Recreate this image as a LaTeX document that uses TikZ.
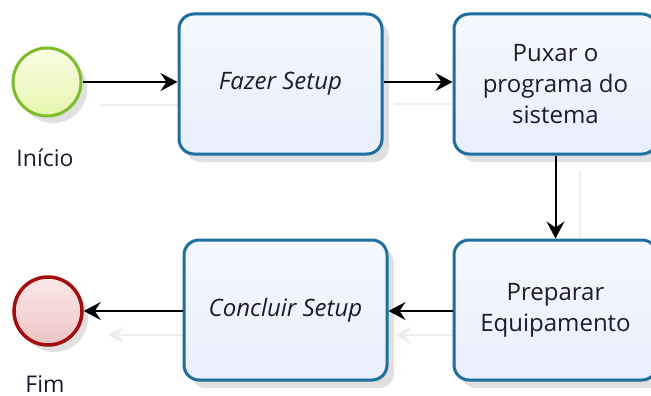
\documentclass[tikz,border=0pt]{standalone}
\usepackage{fontspec}
\setmainfont{Open Sans}
\usetikzlibrary{arrows.meta,shadows}
\definecolor{taskborder}{HTML}{1C6F9F}
\definecolor{taskfillA}{HTML}{F6F8FE}
\definecolor{taskfillB}{HTML}{E9EEFB}
\definecolor{startborder}{HTML}{7CBD2B}
\definecolor{startA}{HTML}{FAFDE6}
\definecolor{startB}{HTML}{E6F5AE}
\definecolor{endborder}{HTML}{A30D0D}
\definecolor{endA}{HTML}{FBE8E8}
\definecolor{endB}{HTML}{EEC4C4}
\definecolor{txt}{HTML}{1E1A2E}
\definecolor{ghost}{HTML}{EDEDED}
\tikzset{
  task/.style={draw=taskborder, line width=3pt, rounded corners=15pt,
    minimum width=203pt, minimum height=140pt, top color=taskfillA, bottom color=taskfillB,
    align=center, text=txt, font=\fontsize{24}{31}\selectfont,
    drop shadow={shadow xshift=7pt, shadow yshift=-8pt, opacity=0.12, fill=black}},
  startev/.style={circle, draw=startborder, line width=3pt, minimum size=68pt,
    top color=startA, bottom color=startB,
    drop shadow={shadow xshift=6pt, shadow yshift=-7pt, opacity=0.12, fill=black}},
  endev/.style={circle, draw=endborder, line width=3.5pt, minimum size=68pt,
    top color=endA, bottom color=endB,
    drop shadow={shadow xshift=6pt, shadow yshift=-7pt, opacity=0.12, fill=black}},
  lbl/.style={text=txt, font=\fontsize{23}{27}\selectfont},
  flow/.style={draw=black, line width=2pt, -{Stealth[length=17pt, width=18pt, inset=6pt]}},
  ghostflow/.style={draw=ghost, line width=2pt, -{Stealth[length=16pt, width=17pt, inset=6pt]}},
}
\begin{document}
\begin{tikzpicture}[x=1pt, y=-1pt]
\useasboundingbox (0,0) rectangle (651,396);
\fill[white] (0,0) rectangle (651,396);
% ghost (shadow) connectors
\coordinate (g1a) at (100,105); \coordinate (g1b) at (178,105);
\coordinate (g2a) at (395,104); \coordinate (g2b) at (453,104);
\coordinate (g3a) at (580,170); \coordinate (g3b) at (580,238);
\coordinate (g4a) at (453,335); \coordinate (g4b) at (395,335);
\coordinate (g5a) at (183,335); \coordinate (g5b) at (108,335);
\draw[draw=ghost, line width=2pt] (g1a) -- (g1b);
\draw[draw=ghost, line width=2pt] (g2a) -- (g2b);
\draw[draw=ghost, line width=2pt] (g3a) -- (g3b);
\draw[ghostflow] (g4a) -- (g4b);
\draw[ghostflow] (g5a) -- (g5b);
% nodes
\node[startev] (start) at (47,82) {};
\node[lbl] (startlbl) at (45,158) {Início};
\node[task] (fazer) at (280.5,84) {\itshape Fazer Setup};
\node[task] (puxar) at (555.5,84) {Puxar o\\programa do\\sistema};
\node[task] (prep) at (555.5,310) {Preparar\\Equipamento};
\node[task] (concl) at (285.5,310) {\itshape Concluir Setup};
\node[endev] (fim) at (48,311) {};
\node[lbl] (fimlbl) at (45,384) {Fim};
% flows
\draw[flow] (start) -- (fazer.west |- start);
\draw[flow] (fazer.east |- start) -- (puxar.west |- start);
\draw[flow] (puxar.south) -- (prep.north);
\draw[flow] (prep.west |- fim) -- (concl.east |- fim);
\draw[flow] (concl.west |- fim) -- (fim);
\end{tikzpicture}
\end{document}
